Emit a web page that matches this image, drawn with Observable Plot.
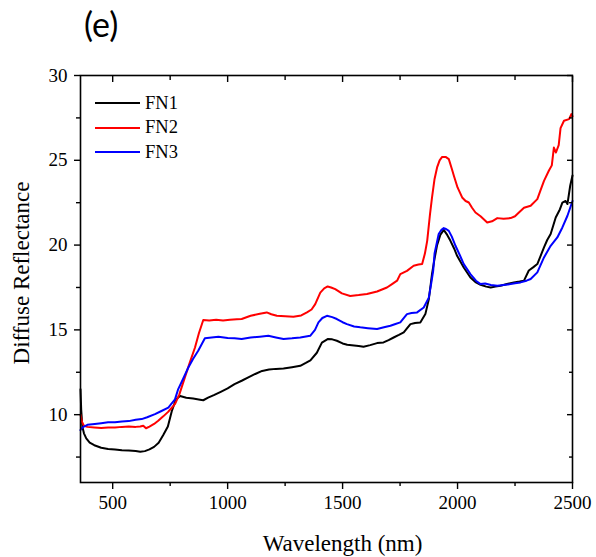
<!DOCTYPE html>
<html><head><meta charset="utf-8">
<script src="https://cdn.jsdelivr.net/npm/d3@7"></script>
<script src="https://cdn.jsdelivr.net/npm/@observablehq/plot@0.6"></script>
<style>
body{margin:0;background:#fff;}
#wrap{position:relative;width:596px;height:557px;}
#title{position:absolute;left:84px;top:3px;font-family:Lato,sans-serif;font-size:34px;color:#000;}
#legend{position:absolute;left:95px;top:91px;font-family:"Liberation Serif","Times New Roman",serif;font-size:18.5px;color:#000;}
.row{display:flex;align-items:center;height:24.5px;}
.sw{width:45px;height:0;border-top:2px solid #000;margin-right:5px;}
</style></head>
<body><div id="wrap"><div id="title">(e)</div><div id="legend"></div></div>
<script>
const seriesNames = ["FN1", "FN2", "FN3"];
const seriesColors = ["#000000", "#ff0000", "#0000ff"];

const fn1Wl = [360,363,368,375,385,400,420,450,480,510,540,570,600,620,640,660,680,700,720,740,757,775,793,820,850,880,894,915,940,970,1000,1030,1061,1090,1120,1150,1180,1210,1243,1280,1316,1340,1360,1388,1410,1435,1455,1475,1500,1520,1550,1570,1591,1620,1650,1678,1700,1722,1745,1766,1795,1815,1838,1860,1875,1889,1900,1911,1925,1940,1955,1969,1985,1998,2027,2056,2080,2100,2125,2144,2165,2187,2215,2245,2270,2289,2310,2330,2347,2376,2390,2405,2427,2445,2456,2470,2478,2490,2500];
const fn1Val = [11.5,10.3,9.3,8.9,8.6,8.35,8.2,8.05,7.98,7.95,7.9,7.88,7.86,7.82,7.85,7.95,8.1,8.35,8.8,9.3,10.2,10.9,11.1,11.0,10.95,10.88,10.85,11.0,11.15,11.35,11.55,11.8,12.0,12.2,12.4,12.58,12.66,12.7,12.72,12.8,12.88,13.05,13.2,13.65,14.25,14.46,14.44,14.36,14.2,14.12,14.08,14.05,14.0,14.1,14.22,14.26,14.4,14.55,14.7,14.85,15.34,15.4,15.44,15.93,16.8,18.3,19.2,20.0,20.6,20.9,20.6,20.25,19.8,19.37,18.68,18.09,17.8,17.66,17.55,17.5,17.55,17.6,17.7,17.8,17.85,17.9,18.5,18.7,18.88,19.86,20.3,20.65,21.63,22.1,22.5,22.6,22.42,23.5,24.1];

const fn2Wl = [360,367,375,390,420,450,480,510,540,570,600,620,633,645,660,680,698,720,740,760,771,790,814,836,858,875,894,920,950,980,1010,1040,1061,1100,1140,1170,1190,1214,1250,1286,1320,1345,1365,1381,1403,1420,1435,1450,1468,1497,1533,1570,1606,1650,1693,1715,1737,1751,1780,1809,1830,1846,1858,1868,1880,1889,1900,1911,1922,1933,1948,1962,1975,1984,2000,2020,2035,2049,2063,2078,2100,2129,2150,2173,2200,2231,2250,2267,2289,2318,2347,2360,2376,2397,2410,2419,2428,2440,2448,2463,2485,2495,2500];
const fn2Val = [10.0,9.55,9.35,9.28,9.25,9.22,9.25,9.25,9.28,9.3,9.28,9.3,9.35,9.2,9.3,9.45,9.64,9.9,10.15,10.45,10.63,11.2,12.2,13.1,13.96,14.8,15.58,15.55,15.6,15.55,15.6,15.62,15.64,15.83,15.95,16.03,15.92,15.83,15.8,15.77,15.85,16.03,16.2,16.52,17.2,17.45,17.56,17.5,17.4,17.15,17.0,17.05,17.11,17.26,17.5,17.7,17.9,18.29,18.48,18.78,18.85,18.88,19.5,20.25,21.8,22.81,23.9,24.58,25.0,25.2,25.2,25.07,24.5,24.09,23.4,22.81,22.6,22.51,22.2,21.92,21.7,21.33,21.4,21.59,21.55,21.59,21.7,21.92,22.2,22.32,22.71,23.2,23.79,24.38,24.7,25.75,25.46,25.9,26.9,27.33,27.43,27.72,27.6];

const fn3Wl = [360,365,375,390,422,450,480,510,540,570,600,626,650,684,710,742,771,785,806,829,850,872,901,930,960,1000,1030,1061,1100,1140,1177,1210,1243,1280,1316,1359,1380,1395,1412,1432,1455,1475,1500,1519,1550,1577,1610,1650,1680,1708,1730,1751,1780,1800,1824,1853,1875,1885,1894,1900,1918,1930,1940,1950,1962,1975,1991,2010,2027,2056,2080,2100,2120,2145,2173,2200,2231,2250,2274,2300,2318,2347,2376,2405,2434,2456,2478,2500];
const fn3Val = [9.09,9.2,9.3,9.4,9.45,9.5,9.55,9.55,9.6,9.62,9.7,9.74,9.85,10.03,10.2,10.42,10.9,11.51,12.1,12.78,13.3,13.77,14.51,14.55,14.59,14.52,14.5,14.46,14.55,14.6,14.65,14.55,14.46,14.5,14.55,14.65,15.0,15.44,15.7,15.83,15.75,15.64,15.45,15.34,15.2,15.15,15.1,15.05,15.15,15.24,15.35,15.44,15.93,16.0,16.03,16.32,16.9,17.7,18.48,19.5,20.65,20.9,21.0,20.95,20.84,20.5,19.96,19.4,18.88,18.29,17.9,17.7,17.74,17.65,17.6,17.65,17.7,17.75,17.8,17.9,18.0,18.39,19.27,19.96,20.45,21.04,21.73,22.6];

const xMajor = [500, 1000, 1500, 2000, 2500];
const xMinor = [750, 1250, 1750, 2250];
const yMajor = [10, 15, 20, 25, 30];
const yMinor = [7.5, 12.5, 17.5, 22.5, 27.5];
const xLabel = "Wavelength (nm)";
const yLabel = "Diffuse Reflectance";

const wls = [fn1Wl, fn2Wl, fn3Wl];
const vals = [fn1Val, fn2Val, fn3Val];
const data = [];
seriesNames.forEach((s, i) => wls[i].forEach((w, j) => data.push({series: s, wl: w, v: vals[i][j]})));

const font = "'Liberation Serif', 'Times New Roman', serif";
const blank = () => "";
const plain = d => String(d);

const chart = Plot.plot({
  width: 596, height: 557,
  marginLeft: 80, marginRight: 24, marginTop: 75, marginBottom: 75,
  style: {fontFamily: font, fontSize: "19px", color: "#000", background: "#fff"},
  x: {domain: [360, 2500]},
  y: {domain: [6, 30]},
  color: {domain: seriesNames, range: seriesColors},
  marks: [
    Plot.line(data, {x: "wl", y: "v", z: "series", stroke: "series", strokeWidth: 2}),
    Plot.frame({stroke: "#000", strokeWidth: 1.6}),
    Plot.axisX(xMajor, {anchor: "bottom", tickSize: 7, tickPadding: 6, tickFormat: plain, label: null, fontSize: 19, fontFamily: font, fill: "#000", strokeWidth: 1.4}),
    Plot.axisX(xMinor, {anchor: "bottom", tickSize: 4, tickFormat: blank, label: null, strokeWidth: 1.4}),
    Plot.axisX(xMajor, {anchor: "top", tickSize: -6, tickFormat: blank, label: null, strokeWidth: 1.4}),
    Plot.axisX(xMinor, {anchor: "top", tickSize: -4, tickFormat: blank, label: null, strokeWidth: 1.4}),
    Plot.axisY(yMajor, {anchor: "left", tickSize: 6, tickPadding: 7, tickFormat: plain, label: null, fontSize: 19, fontFamily: font, fill: "#000", strokeWidth: 1.4}),
    Plot.axisY(yMinor, {anchor: "left", tickSize: 4, tickFormat: blank, label: null, strokeWidth: 1.4}),
    Plot.axisY(yMajor, {anchor: "right", tickSize: -6, tickFormat: blank, label: null, strokeWidth: 1.4}),
    Plot.axisY(yMinor, {anchor: "right", tickSize: -4, tickFormat: blank, label: null, strokeWidth: 1.4}),
    Plot.text([xLabel], {frameAnchor: "bottom", dx: 16, dy: 61, textAnchor: "middle", lineAnchor: "middle", text: d => d, fontSize: 23, fontFamily: font, fill: "#000"}),
    Plot.text([yLabel], {frameAnchor: "left", dx: -59, dy: -6, rotate: -90, textAnchor: "middle", lineAnchor: "middle", text: d => d, fontSize: 23, fontFamily: font, fill: "#000"})
  ]
});
document.getElementById("wrap").prepend(chart);

const leg = document.getElementById("legend");
seriesNames.forEach((s, i) => {
  const r = document.createElement("div"); r.className = "row";
  const sw = document.createElement("span"); sw.className = "sw"; sw.style.borderTopColor = seriesColors[i];
  const t = document.createElement("span"); t.textContent = s;
  r.append(sw, t); leg.append(r);
});
</script></body></html>
